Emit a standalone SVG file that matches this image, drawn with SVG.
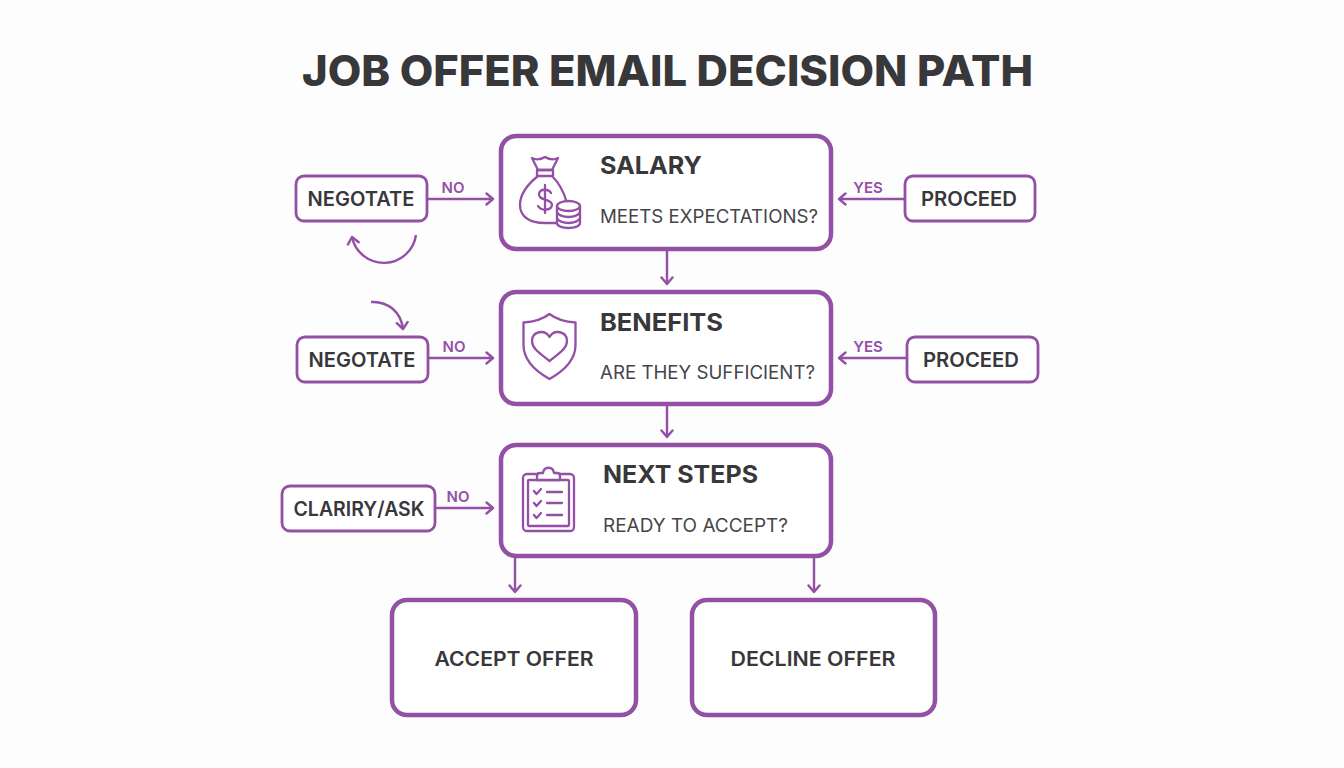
<svg xmlns="http://www.w3.org/2000/svg" width="1344" height="768" viewBox="0 0 1344 768">
<style>
text{font-family:"Inter","Liberation Sans",sans-serif;fill:#38383b}
.title{font-size:43px;font-weight:800}
.h{font-size:24px;font-weight:700}
.sub{font-size:18.500px;font-weight:400;fill:#454549}
.s{font-size:20px;font-weight:600;text-anchor:middle}
.b{font-size:20px;font-weight:600;text-anchor:middle}
.l{font-size:15px;font-weight:600;fill:#9350a5;text-anchor:middle}
.main{fill:#fff;stroke:#9350a5;stroke-width:4.500}
.side{fill:#fff;stroke:#9350a5;stroke-width:2.800}
.ic{fill:none;stroke:#9350a5;stroke-width:2.300;stroke-linecap:round;stroke-linejoin:round}
.c{fill:none;stroke:#9350a5;stroke-width:2.400}
.ah{fill:none;stroke:#9350a5;stroke-width:2.400;stroke-linecap:round;stroke-linejoin:round}
</style>
<defs>
<marker id="a" markerUnits="userSpaceOnUse" markerWidth="14" markerHeight="14" refX="11" refY="7" orient="auto"><path class="ah" d="M4.500 1.500L11 7L4.500 12.500"/></marker>
</defs>
<rect width="1344" height="768" fill="#fdfdfe"/>
<text class="title" x="302" y="86" textLength="731" lengthAdjust="spacingAndGlyphs">JOB OFFER EMAIL DECISION PATH</text>

<g id="connectors">
<path class="c" marker-end="url(#a)" d="M428 199H493"/>
<path class="c" marker-end="url(#a)" d="M904 199H839"/>
<path class="c" marker-end="url(#a)" d="M667 249V284"/>
<path class="c" marker-end="url(#a)" d="M428 358H493"/>
<path class="c" marker-end="url(#a)" d="M906 358H839"/>
<path class="c" marker-end="url(#a)" d="M667 404V437"/>
<path class="c" marker-end="url(#a)" d="M435 508H493"/>
<path class="c" marker-end="url(#a)" d="M515 556V592"/>
<path class="c" marker-end="url(#a)" d="M814 556V592"/>
<path class="c" marker-end="url(#a)" d="M416 235A32.500 32.500 0 0 1 352 237"/>
<path class="c" marker-end="url(#a)" d="M371 302C388 301 401 312 403 329"/>
<text class="l" x="453" y="193">NO</text>
<text class="l" x="868" y="193">YES</text>
<text class="l" x="454" y="352">NO</text>
<text class="l" x="868" y="352">YES</text>
<text class="l" x="458" y="502">NO</text>
</g>

<g id="salary">
<rect class="main" x="501" y="136" width="330" height="113" rx="15"/>
<g class="ic">
<path d="M532 158C536 160 540 160 545 157C550 160 554 160 558 158L552 170H538Z"/>
<path d="M537 170H553V176H537Z"/>
<path d="M538 176C528 184 520 194 520 205C520 217 530 223 545 223H557"/>
<path d="M552 176C558 182 563 190 566 200"/>
<path d="M551 193C549 189 540 188 539 194C538 201 552 198 552 205C551 211 541 211 538 206"/>
<path d="M545 185V213"/>
<ellipse cx="568.500" cy="206" rx="11.500" ry="5"/>
<path d="M557 206V223C557 226 562 228 568.500 228C575 228 580 226 580 223V206"/>
<path d="M557 212C558 215 563 217 568.500 217C574 217 579 215 580 212M557 218C558 221 563 223 568.500 223C574 223 579 221 580 218"/>
</g>
<text class="h" x="600" y="174" textLength="102" lengthAdjust="spacingAndGlyphs">SALARY</text>
<text class="sub" x="600" y="223" textLength="218" lengthAdjust="spacingAndGlyphs">MEETS EXPECTATIONS?</text>
</g>

<g id="benefits">
<rect class="main" x="501" y="292" width="330" height="112" rx="15"/>
<g class="ic">
<path d="M549.500 314C556 319 566 322 575.500 322.500V345C575.500 361 562 372 549.500 379C537 372 523.500 361 523.500 345V322.500C533 322 543 319 549.500 314Z"/>
<path d="M549.500 361C541 354 532 349 532 341C532 331 545 329 549.500 337C554 329 567 331 567 341C567 349 558 354 549.500 361Z"/>
</g>
<text class="h" x="600" y="331" textLength="123" lengthAdjust="spacingAndGlyphs">BENEFITS</text>
<text class="sub" x="600" y="379" textLength="215" lengthAdjust="spacingAndGlyphs">ARE THEY SUFFICIENT?</text>
</g>

<g id="next-steps">
<rect class="main" x="501" y="445" width="330" height="111" rx="15"/>
<g class="ic">
<rect x="523" y="474" width="51" height="57" rx="4"/>
<rect x="528" y="480" width="41" height="46" rx="1"/>
<path fill="#fff" d="M537 480V476C537 474 538 473 540 473H543C544 466 553 466 554 473H557C559 473 560 474 560 476V480Z"/>
<path d="M534 491L536.500 494L541 489M534 503L536.500 506L541 501M534 515L536.500 518L541 513"/>
<path d="M547 492H562M547 503H562M547 515H562"/>
</g>
<text class="h" x="603" y="483" textLength="155" lengthAdjust="spacingAndGlyphs">NEXT STEPS</text>
<text class="sub" x="603" y="532" textLength="185" lengthAdjust="spacingAndGlyphs">READY TO ACCEPT?</text>
</g>

<g id="negotate-1"><rect class="side" x="296" y="176" width="131" height="45" rx="8"/><text class="s" x="361" y="206" textLength="107" lengthAdjust="spacingAndGlyphs">NEGOTATE</text></g>
<g id="proceed-1"><rect class="side" x="905" y="176" width="130" height="45" rx="8"/><text class="s" x="969" y="206" textLength="96" lengthAdjust="spacingAndGlyphs">PROCEED</text></g>
<g id="negotate-2"><rect class="side" x="297" y="337" width="131" height="45" rx="8"/><text class="s" x="362" y="367" textLength="107" lengthAdjust="spacingAndGlyphs">NEGOTATE</text></g>
<g id="proceed-2"><rect class="side" x="907" y="337" width="131" height="45" rx="8"/><text class="s" x="971" y="367" textLength="96" lengthAdjust="spacingAndGlyphs">PROCEED</text></g>
<g id="clarify"><rect class="side" x="282" y="486" width="153" height="45" rx="8"/><text class="s" x="359" y="516" textLength="131" lengthAdjust="spacingAndGlyphs">CLARIRY/ASK</text></g>

<g id="accept"><rect class="main" x="392" y="600" width="244" height="115" rx="15"/><text class="b" x="514" y="666" textLength="159" lengthAdjust="spacingAndGlyphs">ACCEPT OFFER</text></g>
<g id="decline"><rect class="main" x="692" y="600" width="243" height="115" rx="15"/><text class="b" x="813" y="666" textLength="165" lengthAdjust="spacingAndGlyphs">DECLINE OFFER</text></g>
</svg>
